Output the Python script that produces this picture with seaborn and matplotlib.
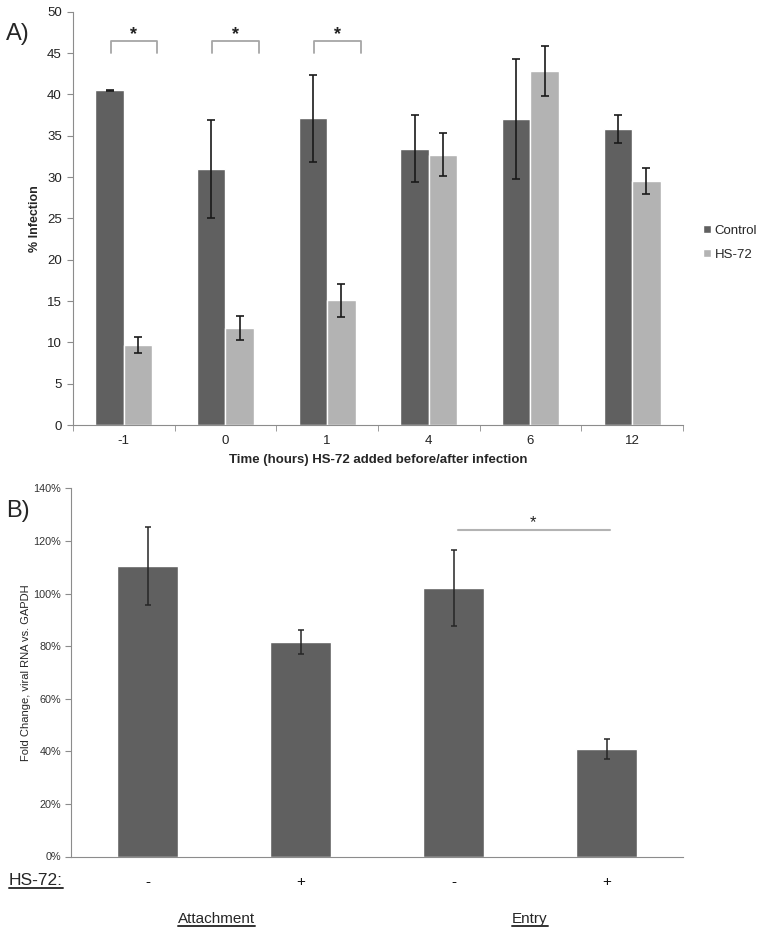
import matplotlib
matplotlib.use("Agg")
import matplotlib.pyplot as plt
import seaborn as sns
import numpy as np
import pandas as pd
from matplotlib.patches import Patch
from matplotlib.lines import Line2D
from matplotlib.ticker import PercentFormatter, FixedLocator
import matplotlib.transforms as mtransforms

# --- Daten Panel A ---
times = ["-1", "0", "1", "4", "6", "12"]
control = [40.5, 31.0, 37.1, 33.4, 37.0, 35.8]
control_err = [0.05, 5.9, 5.3, 4.05, 7.3, 1.7]
hs72 = [9.7, 11.7, 15.1, 32.7, 42.8, 29.5]
hs72_err = [0.97, 1.45, 2.0, 2.6, 3.05, 1.6]
sig_times = ["-1", "0", "1"]

# --- Daten Panel B ---
conditions = ["att_minus", "att_plus", "ent_minus", "ent_plus"]
hs72_labels = ["-", "+", "-", "+"]
fold_change = [1.105, 0.816, 1.021, 0.408]
fold_err = [0.148, 0.046, 0.143, 0.037]
groups = ["Attachment", "Entry"]

dark = "#606060"
light = "#b3b3b3"
axis_grey = "#8c8c8c"

sns.set_style("white")
plt.rcParams["font.family"] = ["Liberation Sans", "DejaVu Sans"]

fig = plt.figure(figsize=(7.62, 9.33), dpi=100)
W, H = 762, 933
axA = fig.add_axes([73 / W, 1 - 425 / H, 610 / W, (425 - 11.7) / H])
axB = fig.add_axes([71 / W, 1 - 856.5 / H, 612 / W, (856.5 - 488.3) / H])

# Panel A
df = pd.DataFrame({
    "time": times * 2,
    "group": ["Control"] * len(times) + ["HS-72"] * len(times),
    "value": control + hs72,
})
sns.barplot(data=df, x="time", y="value", hue="group", order=times,
            palette=[dark, light], width=0.56, errorbar=None, saturation=1,
            legend=False, ax=axA)
for cont, errs in zip(axA.containers, [control_err, hs72_err]):
    xs = [b.get_x() + b.get_width() / 2 for b in cont]
    ys = [b.get_height() for b in cont]
    axA.errorbar(xs, ys, yerr=errs, fmt="none", ecolor="#1a1a1a",
                 elinewidth=1.2, capsize=3, capthick=1.2)

axA.set_xlim(-0.5, len(times) - 0.5)
axA.set_ylim(0, 50)
axA.set_yticks(np.arange(0, 51, 5))
axA.xaxis.set_minor_locator(FixedLocator(np.arange(-0.5, len(times), 1)))
axA.tick_params(axis="x", which="major", length=0, pad=7, labelsize=9.5, labelcolor="#222222")
axA.tick_params(axis="x", which="minor", length=4, color=axis_grey, direction="out", bottom=True)
axA.tick_params(axis="y", length=4, color=axis_grey, direction="out", left=True,
                labelsize=9.5, labelcolor="#222222", pad=4)
for s in ["top", "right"]:
    axA.spines[s].set_visible(False)
for s in ["left", "bottom"]:
    axA.spines[s].set_color(axis_grey)
axA.set_xlabel("Time (hours) HS-72 added before/after infection", fontsize=9.5,
               fontweight="bold", labelpad=5)
axA.set_ylabel("% Infection", fontsize=9, fontweight="bold")
axA.yaxis.set_label_coords(-0.053, 0.5)

# Signifikanz-Klammern
for t in sig_times:
    i = times.index(t)
    axA.plot([i - 0.13, i - 0.13, i + 0.33, i + 0.33], [45, 46.4, 46.4, 45],
             color="#a6a6a6", lw=1.3)
    axA.text(i + 0.1, 47.2, "*", ha="center", va="center", fontsize=13,
             fontweight="bold", color="#222222")

handles = [Patch(facecolor=dark, label="Control"), Patch(facecolor=light, label="HS-72")]
fig.legend(handles=handles, loc="upper left", bbox_to_anchor=(691 / W, 1 - 213 / H),
           frameon=False, fontsize=9.5, handlelength=0.6, handleheight=0.6,
           handletextpad=0.3, labelspacing=0.9)

fig.text(6 / W, 1 - 34 / H, "A)", fontsize=17, va="center", ha="left")
fig.text(6 / W, 1 - 511.5 / H, "B)", fontsize=17, va="center", ha="left")

# Panel B
dfB = pd.DataFrame({"cond": conditions, "value": fold_change})
sns.barplot(data=dfB, x="cond", y="value", order=conditions, color=dark,
            width=0.4, errorbar=None, saturation=1, ax=axB)
bars = axB.containers[0]
xs = [b.get_x() + b.get_width() / 2 for b in bars]
ys = [b.get_height() for b in bars]
axB.errorbar(xs, ys, yerr=fold_err, fmt="none", ecolor="#262626",
             elinewidth=1.1, capsize=2.5, capthick=1.1)

axB.set_xlim(-0.5, len(conditions) - 0.5)
axB.set_ylim(0, 1.4)
axB.set_yticks(np.arange(0, 1.41, 0.2))
axB.yaxis.set_major_formatter(PercentFormatter(1.0, decimals=0))
axB.set_xticks(range(len(conditions)))
axB.set_xticklabels(hs72_labels, fontsize=11)
axB.tick_params(axis="x", length=0, pad=13, labelcolor="#111111")
axB.tick_params(axis="y", length=4, color=axis_grey, direction="out", left=True,
                labelsize=7.8, labelcolor="#333333", pad=3)
for s in ["top", "right"]:
    axB.spines[s].set_visible(False)
for s in ["left", "bottom"]:
    axB.spines[s].set_color(axis_grey)
axB.set_xlabel("")
axB.set_ylabel("Fold Change, viral RNA vs. GAPDH", fontsize=8)
axB.yaxis.set_label_coords(-0.066, 0.5)

# Signifikanzlinie Entry
axB.plot([2.03, 3.02], [1.243, 1.243], color="#b3b3b3", lw=1.5)
axB.text(2.52, 1.27, "*", ha="center", va="center", fontsize=12, color="#222222")


def underline(txt, color="#333333"):
    fig.canvas.draw()
    bb = txt.get_window_extent(renderer=fig.canvas.get_renderer())
    inv = fig.transFigure.inverted()
    (x0, y0), (x1, y1) = inv.transform([[bb.x0, bb.y0], [bb.x1, bb.y1]])
    fig.add_artist(Line2D([x0, x1], [y0 + 0.0005, y0 + 0.0005], color=color,
                          lw=1.4, transform=fig.transFigure))


t_hs = fig.text(9 / W, 1 - 880.7 / H, "HS-72:", fontsize=12.5, va="center", ha="left")
underline(t_hs)

blend = mtransforms.blended_transform_factory(axB.transData, fig.transFigure)
for k, g in enumerate(groups):
    xc = (xs[2 * k] + xs[2 * k + 1]) / 2 - (0.05 if k == 0 else 0)
    tg = axB.text(xc, 1 - 919 / H, g, fontsize=11, ha="center", va="center",
                  transform=blend)
    underline(tg)

fig.savefig("out.png", dpi=100)
